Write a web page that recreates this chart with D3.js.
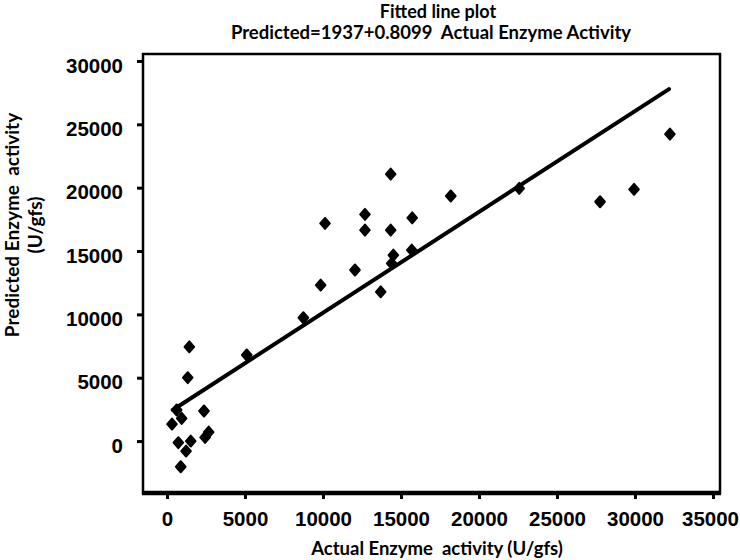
<!DOCTYPE html>
<meta charset="utf-8">
<style>
	body { margin: 0; background: #fff; }
	svg { font-family: Lato, "Open Sans", sans-serif; font-weight: bold; }
	.tick text { font-size: 20.5px; fill: #000; }
	.tick line { stroke: #000; stroke-width: 3px; }
</style>
<body>
<script src="https://d3js.org/d3.v7.min.js"></script>
<script>

	// values
	var actualActivity = [1430, 1330, 620, 940, 320, 2370, 725, 1520, 1220, 2440, 2670, 880,
		5110, 8740, 9850, 10130, 12050, 12690, 12690, 13700, 14340, 14340, 14510, 14400,
		15690, 15720, 18190, 22580, 27760, 29940, 32240];
	var predictedActivity = [7440, 5000, 2450, 1790, 1340, 2370, -130, 0, -790, 290, 710, -2030,
		6790, 9730, 12310, 17180, 13500, 17890, 16650, 11780, 21070, 16650, 14680, 14020,
		15070, 17620, 19340, 19940, 18890, 19870, 24230];
	// fitted line ends: Predicted = 1937 + 0.8099 Actual
	var fitActual = [365, 32180];
	var fitPredicted = [2450, 27780];
	var xTicks = [0, 5000, 10000, 15000, 20000, 25000, 30000, 35000];
	var yTicks = [0, 5000, 10000, 15000, 20000, 25000, 30000];

	var margin = {top: 54, right: 20, bottom: 67, left: 143},
		width = 740 - margin.left - margin.right,
		height = 560 - margin.top - margin.bottom;

	var svg = d3.select("body").append("svg")
		.attr("width", 740)
		.attr("height", 560);

	var g = svg.append("g")
		.attr("transform", "translate(" + margin.left + "," + margin.top + ")");

	var x = d3.scaleLinear().domain([-1540, 35450]).range([0, width]);
	var y = d3.scaleLinear().domain([-4100, 30550]).range([height, 0]);

	var xAxis = d3.axisBottom(x).tickValues(xTicks).tickFormat(d3.format("d"))
		.tickSize(4).tickPadding(12);
	var yAxis = d3.axisLeft(y).tickValues(yTicks).tickFormat(d3.format("d"))
		.tickSize(5).tickPadding(14);

	var gx = g.append("g")
		.attr("transform", "translate(0," + (height + 2) + ")")
		.call(xAxis);
	gx.select(".domain").remove();
	gx.selectAll(".tick text").attr("dx", function(d) { return d == 35000 ? "-3" : "0"; });

	var gy = g.append("g")
		.attr("transform", "translate(-1,0)")
		.call(yAxis);
	gy.select(".domain").remove();
	gy.selectAll(".tick text").attr("dy", "0.55em");

	// frame
	g.append("rect")
		.attr("width", width)
		.attr("height", height)
		.attr("fill", "none")
		.attr("stroke", "#000")
		.attr("stroke-width", 2.5);
	g.append("line")
		.attr("x1", -1).attr("x2", width + 1)
		.attr("y1", height).attr("y2", height)
		.attr("stroke", "#000")
		.attr("stroke-width", 4.5);

	// fitted line
	var line = d3.line()
		.x(function(d, i) { return x(fitActual[i]); })
		.y(function(d, i) { return y(fitPredicted[i]); });
	g.append("path")
		.datum(fitActual)
		.attr("d", line)
		.attr("fill", "none")
		.attr("stroke", "#000")
		.attr("stroke-width", 4)
		.attr("stroke-linecap", "round");

	// points
	g.selectAll(".pt")
		.data(actualActivity)
		.enter().append("path")
		.attr("class", "pt")
		.attr("d", "M0,-5.5L4.8,0L0,5.5L-4.8,0Z")
		.attr("fill", "#000")
		.attr("stroke", "#000")
		.attr("stroke-width", 2)
		.attr("stroke-linejoin", "round")
		.attr("transform", function(d, i) {
			return "translate(" + x(d) + "," + y(predictedActivity[i]) + ")";
		});

	// titles
	svg.append("text")
		.attr("x", 438).attr("y", 18)
		.attr("text-anchor", "middle")
		.style("font-size", "18px")
		.text("Fitted line plot");
	svg.append("text")
		.attr("x", 431).attr("y", 39)
		.attr("text-anchor", "middle")
		.style("font-size", "18.5px")
		.style("white-space", "pre")
		.text("Predicted=1937+0.8099  Actual Enzyme Activity");

	svg.append("text")
		.attr("x", 437).attr("y", 555)
		.attr("text-anchor", "middle")
		.style("font-size", "18.5px")
		.style("white-space", "pre")
		.text("Actual Enzyme  activity (U/gfs)");

	var yl = svg.append("text")
		.attr("transform", "translate(19,225) rotate(-90)")
		.attr("text-anchor", "middle")
		.style("font-size", "19px")
		.style("white-space", "pre");
	yl.append("tspan").attr("x", 0).attr("y", 0).text("Predicted Enzyme  activity");
	yl.append("tspan").attr("x", 0).attr("y", 23).text("(U/gfs)");

</script>
</body>
